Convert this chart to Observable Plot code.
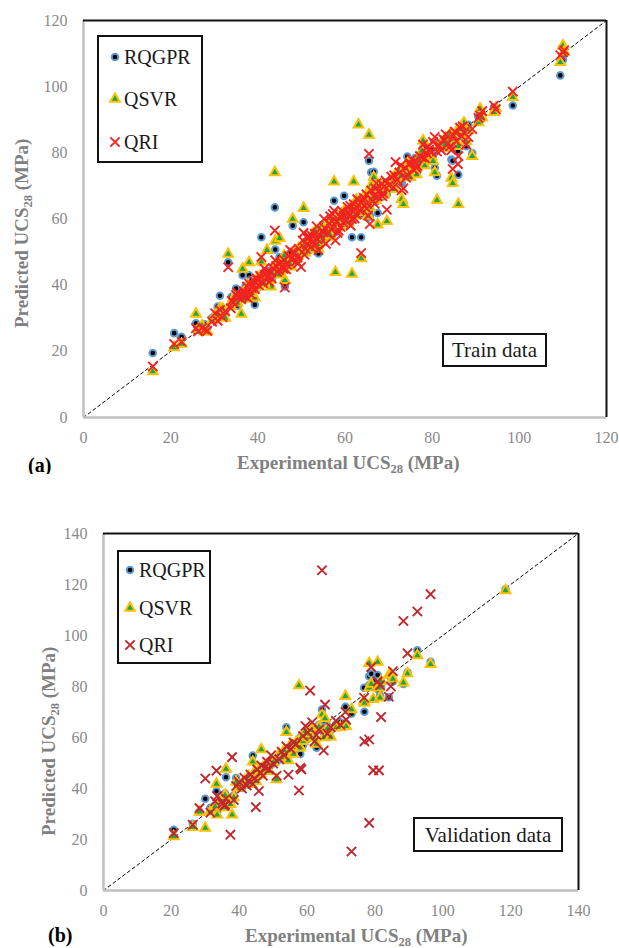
<!DOCTYPE html>
<html><head><meta charset="utf-8">
<script src="https://cdn.jsdelivr.net/npm/d3@7"></script>
<script src="https://cdn.jsdelivr.net/npm/@observablehq/plot@0.6"></script>
<style>
body{margin:0;background:#fff;}
#wrap{position:relative;width:619px;height:948px;overflow:hidden;background:#fff;}
#wrap svg{position:absolute;left:0;overflow:visible;}
</style></head><body><div id="wrap"></div>
<script>
const seriesNames = ["RQGPR", "QSVR", "QRI"];
const ticksTrain = [0, 20, 40, 60, 80, 100, 120];
const ticksVal = [0, 20, 40, 60, 80, 100, 120, 140];

// (a) Train data: experimental UCS28 and predictions
const trainExp = [
15.9,20.8,22.5,25.8,26.3,27.2,27.8,28.4,29.5,30.2,
30.8,31.3,31.9,32.5,33.2,33.8,34.4,35.0,35.5,36.2,
36.5,37.0,37.5,38.0,38.4,38.9,39.3,39.8,40.2,40.8,
41.2,41.7,42.1,42.6,43.0,43.5,43.9,44.0,44.5,45.0,
45.4,45.9,46.2,46.7,47.1,47.6,48.0,48.5,49.0,49.4,
49.9,50.3,50.5,50.9,51.3,51.8,52.2,52.7,53.1,53.5,
53.9,54.3,54.8,55.2,55.6,56.0,56.4,56.8,57.2,57.5,
57.8,58.1,58.5,58.9,59.3,59.8,60.2,60.6,61.0,61.3,
61.6,62.0,62.4,62.8,63.1,63.4,63.7,64.1,64.5,64.9,
65.3,65.5,65.7,66.0,66.3,66.6,67.0,67.5,67.9,68.4,
68.8,69.3,69.6,70.1,70.6,71.1,71.6,72.0,72.5,73.0,
73.4,73.8,74.3,74.8,75.3,75.8,76.1,76.6,77.2,77.9,
78.3,78.8,79.3,79.8,80.2,80.6,81.1,81.6,82.1,82.6,
83.1,83.6,84.1,84.4,84.7,85.2,85.6,85.9,86.0,86.4,
86.8,87.3,87.8,88.3,89.2,90.6,91.0,91.5,94.2,94.6,
98.5,109.4,110.0,110.3,34.0,36.8,37.8,39.0,40.5,42.3,
44.2,46.5,48.8,51.5,53.3,55.0,57.0,59.0,60.8,62.6,
64.3,66.8,68.6,71.3,74.0,76.4,
35.3,37.2,38.6,40.0,41.5,43.2,44.8,46.0,47.4,49.2,
50.7,52.0,53.7,55.4,56.6,58.3,59.6,61.2,62.2,63.8,
65.0,67.2,69.0,72.8,75.0,77.6,79.0,82.9,84.9,87.0];
const trainRQGPR = [
19.5,25.5,24.4,28.5,26.5,27.5,28.2,26.9,30.1,31.0,
33.5,36.8,32.4,31.5,46.9,34.2,35.0,39.0,35.2,37.3,
43.0,37.8,36.9,43.0,38.0,40.1,34.1,40.5,41.2,54.5,
42.4,40.8,43.5,42.0,44.5,42.8,63.5,50.8,45.1,48.5,
44.2,46.5,39.6,47.3,46.0,48.7,58.0,47.2,50.1,49.0,
51.6,50.5,59.0,52.3,51.0,53.5,52.0,54.8,51.4,55.2,
49.6,56.1,54.0,57.4,55.0,57.9,56.2,59.5,57.6,65.5,
56.0,60.1,58.3,61.6,59.0,67.0,60.8,62.2,60.1,63.4,
54.5,62.7,61.8,64.9,63.0,65.4,54.5,64.3,66.5,65.1,
60.5,77.6,61.0,74.1,67.4,74.3,66.5,61.8,69.2,68.0,
70.5,68.7,67.5,71.4,70.0,72.3,71.2,73.8,72.7,71.0,
65.0,75.0,78.9,74.5,76.6,75.4,78.4,77.0,76.1,81.5,
77.3,79.6,79.0,80.8,79.2,75.5,73.1,82.8,81.6,83.4,
82.2,84.6,83.5,78.0,77.6,85.8,84.5,80.5,73.4,86.9,
85.2,87.9,82.0,88.5,79.9,91.0,92.5,90.4,93.8,93.0,
94.3,103.4,108.1,109.8,36.5,35.8,39.4,38.2,41.8,44.2,
43.6,47.8,48.0,50.2,53.8,58.2,55.4,57.8,61.5,63.8,
62.8,68.2,66.8,70.2,73.0,74.0,
33.8,39.8,41.5,39.2,43.8,41.4,46.8,45.2,49.6,47.6,
53.0,50.8,56.6,53.8,58.8,56.9,62.4,59.6,64.6,61.4,
67.2,65.4,71.0,71.6,77.5,79.2,77.8,84.0,83.0,86.0];
const trainQSVR = [
13.9,21.2,22.2,31.3,26.7,27.8,25.9,26.0,29.4,30.8,
31.2,33.0,32.9,30.1,49.4,33.6,36.2,35.3,36.0,31.3,
44.9,38.1,38.3,46.9,39.2,38.6,36.2,41.0,39.5,47.1,
42.0,43.1,50.6,41.5,39.5,44.6,74.1,53.4,46.0,54.2,
45.8,44.7,41.5,48.2,47.0,45.6,60.0,49.5,48.0,51.2,
50.3,52.0,63.3,49.8,53.2,52.6,50.8,55.7,53.5,54.1,
51.0,57.3,53.2,55.8,58.0,56.5,54.6,58.8,59.8,71.3,
43.9,57.4,60.6,59.4,58.1,62.5,61.8,60.3,62.9,61.0,
43.4,71.3,63.6,62.0,88.5,64.7,48.1,66.2,65.0,67.3,
61.0,85.4,63.5,70.2,68.9,72.6,65.7,58.3,68.0,70.1,
67.2,69.5,59.3,70.8,72.0,71.5,73.6,72.2,74.5,66.0,
64.5,73.2,76.8,77.0,74.6,76.1,75.5,78.2,77.4,83.7,
76.2,80.1,78.0,78.9,77.5,74.1,65.7,82.0,83.0,81.5,
84.5,83.3,85.6,72.4,70.8,84.2,86.6,82.0,64.5,85.4,
88.0,89.1,83.5,86.8,79.0,89.2,93.3,90.6,92.3,93.5,
96.8,107.4,112.4,110.5,35.0,37.2,40.0,40.6,42.5,43.0,
45.5,47.0,50.2,51.8,56.3,54.5,57.0,61.2,59.0,65.8,
64.0,66.5,68.7,69.0,75.3,73.5,
34.6,35.8,37.6,42.2,40.4,43.9,43.2,48.9,46.4,49.0,
51.4,54.2,52.4,57.0,55.2,59.1,60.6,63.2,61.0,62.6,
66.8,69.2,67.8,73.0,72.6,80.6,79.6,82.6,85.0,87.2];
const trainQRI = [
15.4,22.2,22.9,27.0,26.0,27.1,26.6,26.2,29.0,31.5,
29.2,32.5,30.3,32.1,45.4,33.0,34.8,37.0,36.4,35.8,
36.9,37.5,39.6,40.5,37.2,41.5,38.8,42.0,40.0,48.5,
40.6,43.2,44.0,41.0,43.8,45.2,56.5,47.5,44.0,46.5,
47.0,45.0,39.3,46.2,48.8,47.9,50.0,49.8,48.4,51.0,
45.5,53.5,55.8,51.0,52.4,54.6,51.5,53.2,55.5,57.8,
50.6,54.9,56.4,60.0,52.5,55.6,58.6,57.0,61.5,62.5,
53.5,59.2,56.5,60.8,62.4,61.0,59.5,63.6,61.2,58.0,
60.0,64.5,62.8,66.0,64.2,62.6,49.7,65.6,63.9,67.5,
61.0,79.7,58.5,68.6,65.5,67.0,69.2,66.8,68.4,70.5,
67.8,71.6,62.8,70.2,72.8,69.6,77.2,71.8,74.0,68.7,
69.3,75.5,73.4,76.6,78.0,74.8,77.3,76.0,79.0,82.5,
78.4,79.8,81.0,80.2,83.3,84.8,80.4,82.1,80.8,84.0,
85.6,82.8,81.9,80.8,75.1,86.4,83.5,76.6,79.0,87.6,
85.0,86.2,82.5,84.8,87.2,90.5,91.3,92.6,94.3,93.2,
98.5,109.5,110.4,111.0,35.2,38.2,36.0,40.1,42.8,42.5,
45.8,44.8,47.2,54.0,52.2,56.0,59.3,57.6,62.0,61.4,
66.4,64.6,66.9,73.2,72.5,75.4,
37.8,36.6,39.2,41.4,45.0,42.0,44.6,47.6,50.6,46.6,
49.2,55.4,53.8,57.2,60.8,55.8,58.9,64.0,60.2,65.0,
63.2,70.8,69.9,76.2,76.8,78.6,82.0,83.8,85.2,88.0];

// (b) Validation data
const valExp = [
20.7,26.3,28.3,30.0,31.5,32.9,33.3,33.5,35.0,35.6,
35.8,36.1,37.4,37.9,38.4,39.1,40.0,40.8,41.5,42.2,
42.8,43.3,44.0,44.5,44.9,45.3,45.8,46.3,46.5,47.0,
47.6,48.2,48.8,49.4,50.0,51.0,51.8,52.5,53.2,53.9,
54.5,55.2,56.0,56.8,57.6,58.0,58.3,58.8,59.5,60.2,
60.9,61.5,62.2,62.8,63.5,64.4,64.9,65.3,66.0,67.0,
68.5,69.8,71.3,71.5,73.1,76.8,76.9,78.3,78.3,78.9,
79.5,80.8,81.2,81.5,81.8,84.1,84.7,85.3,88.4,89.6,
92.5,96.4,118.5];
const valRQGPR = [
23.8,26.2,31.0,36.0,32.4,33.5,38.9,31.0,35.5,36.8,
38.0,44.4,34.5,36.0,37.2,44.1,41.0,40.2,42.5,41.7,
43.6,42.4,52.9,45.0,43.8,46.2,44.8,47.5,48.0,46.6,
48.9,47.8,50.0,49.2,51.6,50.5,52.8,51.6,54.5,64.0,
53.0,56.0,55.2,57.5,59.0,53.5,60.5,57.0,61.2,59.5,
62.2,60.5,63.5,56.0,65.0,71.0,62.0,66.5,64.5,63.0,
65.0,66.0,72.0,65.5,69.3,79.5,70.1,80.5,84.0,85.0,
82.1,84.5,78.5,76.5,80.0,75.8,83.5,82.0,81.0,85.5,
94.2,89.7,118.1];
const valQSVR = [
21.2,24.8,30.8,24.5,31.0,33.0,41.8,29.7,35.8,32.6,
37.4,47.7,33.8,29.7,36.5,42.6,40.3,41.5,43.0,42.0,
44.8,41.8,50.5,46.5,42.9,45.2,47.2,46.0,55.3,48.3,
47.4,49.5,46.8,51.0,50.2,43.5,53.5,52.2,55.0,62.1,
51.0,57.4,53.5,58.2,80.4,56.0,60.0,58.5,62.5,60.0,
61.5,63.0,59.8,57.5,64.2,69.0,60.0,67.5,63.5,60.2,
63.8,64.0,76.2,64.4,71.0,74.3,73.5,79.5,89.1,81.0,
75.0,89.6,79.5,75.6,82.0,84.5,84.7,83.0,81.5,85.1,
92.2,88.7,117.7];
const valQRI = [
22.5,25.8,32.3,43.9,30.5,35.0,47.0,37.0,34.0,33.2,
33.7,36.0,21.9,52.3,35.5,41.0,42.5,40.0,44.2,41.2,
43.0,45.5,41.8,44.0,32.7,47.5,39.0,46.0,49.0,45.0,
48.2,50.5,47.5,53.0,49.8,45.0,51.5,54.4,53.0,56.5,
45.4,55.5,58.0,57.4,39.2,48.1,47.5,60.6,64.5,62.0,
78.4,66.0,58.5,61.0,63.0,125.6,54.9,72.9,61.5,64.0,
66.5,65.0,70.0,67.0,15.3,75.6,58.5,59.2,26.5,87.6,
47.1,82.0,47.1,80.5,68.0,76.0,80.0,86.0,105.7,93.0,
109.4,116.2,null];

const FONT = "'Liberation Serif','Times New Roman',Tinos,'DejaVu Serif',serif";
const TICK = "#8a8a8a", TITLE = "#808080";
const SYM = {
  circle: {r: 3.3, fill: "#000", stroke: "#5b9bd5", sw: 2},
  tri: {r: 3.6, fill: "#1ea64b", stroke: "#ffc000", sw: 2},
  times: {r: 4.3, sw: 1.9}
};

function makePanel(cfg) {
  const rows = cfg.exp.map((e, i) => ({e, rq: cfg.rq[i], qs: cfg.qs[i], qr: cfg.qr[i]}));
  const max = cfg.ticks[cfg.ticks.length - 1];
  const diag = [cfg.ticks[0], max].map(v => ({v}));
  const chart = Plot.plot({
    width: 619, height: 474,
    marginTop: cfg.m[0], marginRight: cfg.m[1], marginBottom: cfg.m[2], marginLeft: cfg.m[3],
    style: {fontFamily: FONT, fontSize: "16px", color: TICK, background: "white", overflow: "visible"},
    x: {domain: [0, max], label: null},
    y: {domain: [0, max], label: null},
    marks: [
      Plot.axisX({ticks: cfg.ticks, tickSize: 0, tickPadding: 14, label: null, fontSize: 16, fill: TICK}),
      Plot.axisY({ticks: cfg.ticks, tickSize: 0, tickPadding: 16, label: null, fontSize: 16, fill: TICK}),
      Plot.line(diag, {x: "v", y: "v", stroke: "#000", strokeWidth: 1, strokeDasharray: "3,3"}),
      Plot.dot(rows, {x: "e", y: "rq", r: SYM.circle.r, fill: SYM.circle.fill, stroke: SYM.circle.stroke, strokeWidth: SYM.circle.sw}),
      Plot.dot(rows, {x: "e", y: "qs", symbol: "triangle", r: SYM.tri.r, fill: SYM.tri.fill, stroke: SYM.tri.stroke, strokeWidth: SYM.tri.sw}),
      Plot.dot(rows, {filter: d => d.qr != null, x: "e", y: "qr", symbol: "times", r: SYM.times.r, fill: "none", stroke: cfg.xColor, strokeWidth: SYM.times.sw}),
      Plot.ruleX([0], {stroke: "#c0c0c0", strokeWidth: 2.5}),
      Plot.ruleY([0], {stroke: "#c0c0c0", strokeWidth: 2.5}),
      Plot.ruleX([max], {stroke: "#111", strokeWidth: 2}),
      Plot.ruleY([max], {stroke: "#111", strokeWidth: 2})
    ]
  });
  chart.style.top = cfg.top + "px";
  const svg = d3.select(chart);

  // legend
  const L = cfg.legend;
  svg.append("rect").attr("x", L.x).attr("y", L.y).attr("width", L.w).attr("height", L.h)
    .attr("fill", "white").attr("stroke", "#111").attr("stroke-width", 2);
  const types = [d3.symbolCircle, d3.symbolTriangle, d3.symbolTimes];
  const specs = [SYM.circle, SYM.tri, SYM.times];
  seriesNames.forEach((name, i) => {
    const s = specs[i];
    svg.append("path")
      .attr("d", d3.symbol().type(types[i]).size(Math.PI * s.r * s.r)())
      .attr("transform", `translate(${L.mx},${L.ys[i]})`)
      .attr("fill", i === 2 ? "none" : s.fill)
      .attr("stroke", i === 2 ? cfg.xColor : s.stroke)
      .attr("stroke-width", s.sw);
    svg.append("text").attr("x", L.tx).attr("y", L.ys[i]).attr("dy", "0.35em")
      .attr("text-anchor", "start")
      .attr("font-family", FONT).attr("font-size", 20).attr("fill", "#1a1a1a").text(name);
  });

  // annotation box
  const A = cfg.note;
  svg.append("rect").attr("x", A.x).attr("y", A.y).attr("width", A.w).attr("height", A.h)
    .attr("fill", "white").attr("stroke", "#111").attr("stroke-width", 2);
  svg.append("text").attr("x", A.x + A.w / 2).attr("y", A.y + A.h / 2).attr("dy", "0.35em")
    .attr("text-anchor", "middle").attr("font-family", FONT).attr("font-size", 21)
    .attr("fill", "#1a1a1a").text(A.text);

  // axis titles with subscript
  function title(g) {
    g.attr("font-family", FONT).attr("font-weight", "bold").attr("font-size", 19)
      .attr("fill", TITLE).attr("text-anchor", "start");
    return g;
  }
  const xt = title(svg.append("text").attr("x", cfg.xt[0]).attr("y", cfg.xt[1]));
  xt.append("tspan").text("Experimental UCS");
  xt.append("tspan").attr("font-size", 12.5).attr("dy", 4).text("28");
  xt.append("tspan").attr("dy", -4).text(" (MPa)");
  const yt = title(svg.append("text").attr("transform", `translate(${cfg.yt[0]},${cfg.yt[1]}) rotate(-90)`));
  yt.append("tspan").text("Predicted UCS");
  yt.append("tspan").attr("font-size", 12.5).attr("dy", 4).text("28");
  yt.append("tspan").attr("dy", -4).text(" (MPa)");

  svg.append("text").attr("x", cfg.tag[0]).attr("y", cfg.tag[1]).attr("font-family", FONT)
    .attr("text-anchor", "start")
    .attr("font-weight", "bold").attr("font-size", 20).attr("fill", "#000").text(cfg.tag[2]);

  document.getElementById("wrap").appendChild(chart);
}

makePanel({
  exp: trainExp, rq: trainRQGPR, qs: trainQSVR, qr: trainQRI, ticks: ticksTrain,
  m: [20, 13, 57, 83], top: 0, xColor: "#f22222",
  legend: {x: 98, y: 36, w: 104, h: 126, mx: 115, tx: 124, ys: [57, 99, 142]},
  note: {x: 443, y: 334, w: 103, h: 32, text: "Train data"},
  xt: [237, 469], yt: [28, 328], tag: [28, 472, "(a)"]
});
makePanel({
  exp: valExp, rq: valRQGPR, qs: valQSVR, qr: valQRI, ticks: ticksVal,
  m: [59, 41, 58, 103], top: 474, xColor: "#c0262d",
  legend: {x: 118, y: 77, w: 92, h: 112, mx: 130, tx: 139, ys: [96, 134, 171]},
  note: {x: 414, y: 344, w: 148, h: 33, text: "Validation data"},
  xt: [245, 468], yt: [55, 362], tag: [48, 468, "(b)"]
});
</script></body></html>
